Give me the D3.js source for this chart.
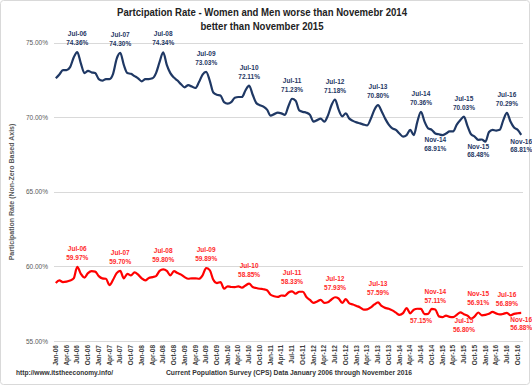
<!DOCTYPE html>
<html>
<head>
<meta charset="utf-8">
<script src="https://cdn.jsdelivr.net/npm/d3@7"></script>
<style>
  body { margin: 0; background: #fff; }
  svg text { font-family: "Liberation Sans", Arial, sans-serif; }
</style>
</head>
<body>
<svg id="chart" width="532" height="387"></svg>
<script>
// month categories Jan-06 .. Nov-16
var monthNames = ["Jan", "Feb", "Mar", "Apr", "May", "Jun", "Jul", "Aug", "Sep", "Oct", "Nov", "Dec"];
var years = ["06", "07", "08", "09", "10", "11", "12", "13", "14", "15", "16"];
var months = [];
years.forEach(function (y) {
  monthNames.forEach(function (m) { months.push(m + "-" + y); });
});
months = months.slice(0, 131);

// tick labels every third month
var tickLabels = months.filter(function (d, i) { return i % 3 === 0; });

var yTicks = [55, 60, 65, 70, 75];

// men (navy), percent
var men = [
  72.60, 72.85, 73.15, 73.15, 73.35, 74.00, 74.36, 73.60, 72.95, 73.10, 73.00, 72.95,
  72.55, 72.45, 72.55, 72.55, 72.90, 73.90, 74.30, 73.50, 72.95, 72.90, 72.75, 72.60,
  72.40, 72.55, 72.55, 72.60, 72.95, 73.70, 74.34, 73.50, 72.95, 72.65, 72.45, 72.20,
  72.00, 72.15, 72.05, 71.95, 72.35, 72.85, 73.03, 72.45, 71.65, 71.50, 71.45, 71.00,
  70.90, 71.00, 71.30, 71.35, 71.35, 71.80, 72.11, 71.50, 70.95, 70.80, 70.70, 70.50,
  70.10, 70.20, 70.30, 70.25, 70.15, 70.75, 71.23, 71.10, 70.45, 70.35, 70.30, 70.15,
  69.70, 69.80, 69.90, 69.70, 70.10, 70.80, 71.18, 70.50, 70.05, 70.25, 69.90, 69.75,
  69.65, 69.58, 69.50, 69.45, 69.90, 70.50, 70.80, 70.40, 69.90, 69.50, 69.25, 69.15,
  68.90, 68.70, 68.80, 69.15, 68.80, 69.70, 70.36, 69.70, 69.25, 69.15, 68.91, 68.85,
  68.80, 68.90, 69.05, 69.05, 69.50, 69.80, 70.03, 69.40, 68.85, 68.70, 68.48, 68.50,
  68.35, 69.00, 69.15, 69.10, 69.15, 69.80, 70.29, 69.70, 69.30, 69.15, 68.81
];

// women (red), percent
var women = [
  58.88, 59.06, 58.95, 58.98, 59.05, 59.20, 59.97, 59.50, 59.25, 59.55, 59.68, 59.65,
  59.35, 59.20, 59.17, 58.75, 59.10, 59.55, 59.70, 59.20, 59.50, 59.40, 59.60, 59.45,
  59.20, 59.06, 59.22, 59.28, 59.35, 59.70, 59.80, 59.70, 59.40, 59.68, 59.55, 59.45,
  59.28, 59.17, 59.20, 59.20, 59.17, 59.40, 59.89, 59.75, 59.10, 58.88, 58.95, 58.50,
  58.66, 58.62, 58.61, 58.66, 58.57, 58.72, 58.85, 58.62, 58.55, 58.50, 58.47, 58.40,
  58.10, 58.00, 57.95, 58.05, 58.03, 58.25, 58.33, 58.17, 58.30, 58.30, 57.95, 57.75,
  57.55, 57.65, 57.76, 57.55, 57.60, 57.78, 57.93, 57.85, 57.55, 57.80, 57.52, 57.45,
  57.35, 57.25, 57.10, 57.12, 57.25, 57.45, 57.59, 57.35, 57.22, 57.16, 57.05, 56.90,
  56.75, 56.87, 57.20, 56.85, 57.10, 57.16, 57.15, 56.80, 56.82, 57.15, 57.11, 56.65,
  56.60, 56.70, 56.62, 56.60, 56.75, 56.92, 56.80, 56.70, 56.50, 56.65, 56.91, 56.72,
  56.75, 56.82, 56.95, 56.85, 56.78, 56.82, 56.89, 56.72, 56.82, 56.86, 56.88
];

// annotated months
var menAbove = ["Jul-06", "Jul-07", "Jul-08", "Jul-09", "Jul-10", "Jul-11", "Jul-12", "Jul-13", "Jul-14", "Jul-15", "Jul-16"];
var menBelow = ["Nov-14", "Nov-15", "Nov-16"];
var womenAbove = ["Jul-06", "Jul-07", "Jul-08", "Jul-09", "Jul-10", "Jul-11", "Jul-12", "Jul-13", "Nov-14", "Nov-15", "Jul-16"];
var womenBelow = ["Jul-15", "Nov-16"];
var womenValueOnly = ["Jul-14"];

var svg = d3.select("#chart");
var W = 532, H = 387;
var navy = "#1f3864", red = "#ff0000";

// outer frame
svg.append("rect").attr("x", 0.5).attr("y", 0.5).attr("width", W - 3).attr("height", H - 3)
  .attr("rx", 3).attr("fill", "#fff").attr("stroke", "#d9d9d9");

var x = d3.scaleBand().domain(months).range([54, 523]);
var y = d3.scaleLinear().domain([55, 75]).range([341, 42.5]);
var cx = function (m) { return x(m) + x.bandwidth() / 2; };

// gridlines
svg.append("g").selectAll("line").data(yTicks).join("line")
  .attr("x1", 54).attr("x2", 523)
  .attr("y1", function (d) { return Math.round(y(d)) + 0.5; })
  .attr("y2", function (d) { return Math.round(y(d)) + 0.5; })
  .attr("stroke", "#d9d9d9").attr("stroke-width", 1);

// y axis labels
var yAxis = d3.axisLeft(y).tickValues(yTicks).tickSize(0).tickPadding(6)
  .tickFormat(function (d) { return d.toFixed(2) + "%"; });
var gy = svg.append("g").attr("transform", "translate(54,0)").call(yAxis);
gy.select(".domain").remove();
gy.selectAll("text").attr("fill", "#595959").style("font-size", "6.5px");

// x axis labels
var xAxis = d3.axisBottom(x).tickValues(tickLabels).tickSize(0);
var gx = svg.append("g").attr("transform", "translate(0,341)").call(xAxis);
gx.select(".domain").remove();
gx.selectAll("text")
  .attr("transform", "rotate(-90)")
  .attr("text-anchor", "end")
  .attr("x", -4).attr("y", 0).attr("dy", "0.32em")
  .attr("fill", "#404040").style("font-size", "6.5px").style("font-weight", "bold");

// lines
var line = d3.line()
  .x(function (d, i) { return cx(months[i]); })
  .y(function (d) { return y(d); })
  .curve(d3.curveMonotoneX);

svg.append("path").datum(men).attr("d", line)
  .attr("fill", "none").attr("stroke", navy).attr("stroke-width", 2.2).attr("stroke-linejoin", "round");
svg.append("path").datum(women).attr("d", line)
  .attr("fill", "none").attr("stroke", red).attr("stroke-width", 2.2).attr("stroke-linejoin", "round");

// data labels
function labels(list, series, color, where, showName) {
  var g = svg.append("g").attr("fill", color)
    .style("font-size", "6.5px").style("font-weight", "bold").attr("text-anchor", "middle");
  list.forEach(function (m) {
    var i = months.indexOf(m);
    var px = cx(m), py = y(series[i]);
    var nameY, valY;
    if (where === "above") { nameY = py - 16; valY = py - 7; }
    else if (showName) { nameY = py + 9; valY = py + 17.5; }
    else { valY = py + 14; }
    if (showName) g.append("text").attr("x", px).attr("y", nameY).text(m);
    g.append("text").attr("x", px).attr("y", valY).text(series[i].toFixed(2) + "%");
  });
}
labels(menAbove, men, navy, "above", true);
labels(menBelow, men, navy, "below", true);
labels(womenAbove, women, "#ff2a2a", "above", true);
labels(womenBelow, women, "#ff2a2a", "below", true);
labels(womenValueOnly, women, "#ff2a2a", "below", false);

// titles
svg.append("text").attr("x", 262).attr("y", 16).attr("text-anchor", "middle")
  .style("font-size", "10px").style("font-weight", "bold").attr("fill", "#222")
  .attr("textLength", 290).attr("lengthAdjust", "spacingAndGlyphs")
  .text("Partcipation Rate - Women  and Men worse than Novemebr 2014");
svg.append("text").attr("x", 262).attr("y", 30).attr("text-anchor", "middle")
  .style("font-size", "10px").style("font-weight", "bold").attr("fill", "#222")
  .attr("textLength", 123).attr("lengthAdjust", "spacingAndGlyphs")
  .text("better than November 2015");

svg.append("text").attr("transform", "translate(14,192) rotate(-90)").attr("text-anchor", "middle")
  .style("font-size", "7px").style("font-weight", "bold").attr("fill", "#595959")
  .text("Participation Rate (Non-Zero Based Axis)");

svg.append("text").attr("x", 16).attr("y", 375)
  .style("font-size", "7px").style("font-weight", "bold").attr("fill", "#333")
  .attr("textLength", 97).attr("lengthAdjust", "spacingAndGlyphs")
  .text("http://www.itstheeconomy.info/");
svg.append("text").attr("x", 166).attr("y", 375)
  .style("font-size", "8px").style("font-weight", "bold").attr("fill", "#333")
  .attr("textLength", 246).attr("lengthAdjust", "spacingAndGlyphs")
  .text("Current Population Survey (CPS) Data January 2006 through November 2016");
</script>
</body>
</html>
